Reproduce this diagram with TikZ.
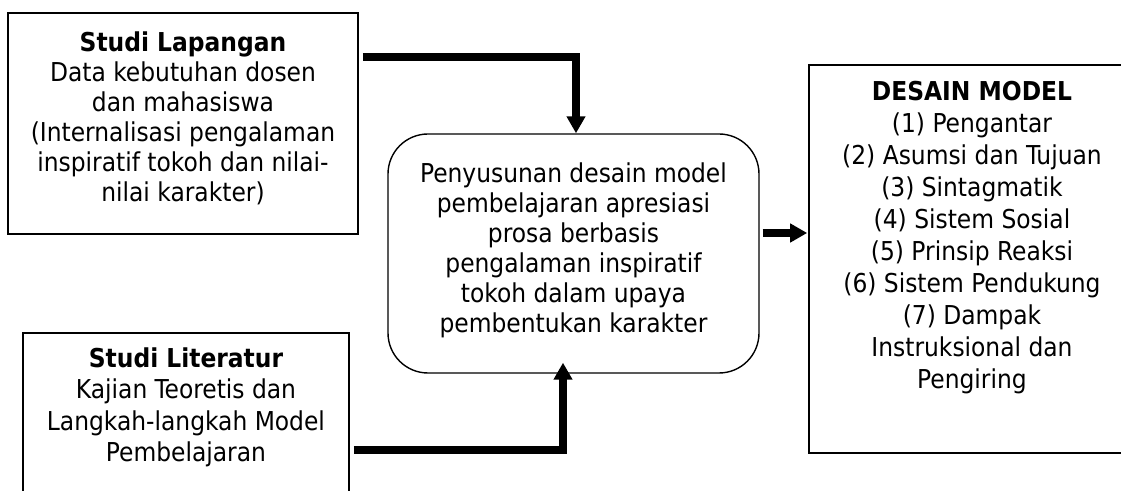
\documentclass[tikz,border=0pt]{standalone}
\usepackage{fontspec}
\setmainfont{DejaVu Sans Condensed}[BoldFont={DejaVu Sans Condensed Bold}]
\usetikzlibrary{arrows.meta}
\begin{document}
\begin{tikzpicture}[x=1pt,y=1pt,
  boxline/.style={draw=black, line width=1.6pt, inner sep=0pt},
  txt/.style={align=center, font=\fontsize{26}{30}\selectfont, inner sep=0pt},
  flow/.style={line width=7.5pt, -{Triangle[width=18pt,length=17pt]}}
]
\useasboundingbox (0,0) rectangle (1121,490);
\fill[white] (0,0) rectangle (1121,490);

% top-left box
\node[boxline, minimum width=350pt, minimum height=221pt] (lap) at (183,366.5) {};
\node[txt] (laptext) at (183,372) {\textbf{Studi Lapangan}\\Data kebutuhan dosen\\dan mahasiswa\\(Internalisasi pengalaman\\inspiratif tokoh dan nilai-\\nilai karakter)};

% bottom-left box
\node[boxline, minimum width=326pt, minimum height=217pt] (lit) at (186,48.5) {};
\node[txt, font=\fontsize{26}{31.5}\selectfont] (littext) at (186,82.5) {\textbf{Studi Literatur}\\Kajian Teoretis dan\\Langkah-langkah Model\\Pembelajaran};

% rounded centre box
\node[draw, line width=1.4pt, rounded corners=40pt, minimum width=371pt, minimum height=239pt, inner sep=0pt] (des) at (573.5,236.5) {};
\node[txt] (destext) at (573.5,240) {Penyusunan desain model\\pembelajaran apresiasi\\prosa berbasis\\pengalaman inspiratif\\tokoh dalam upaya\\pembentukan karakter};

% right box
\node[boxline, minimum width=326pt, minimum height=388pt] (mod) at (972,231) {};
\node[txt, font=\fontsize{26}{32}\selectfont] (modtext) at (972,252.5) {\textbf{DESAIN MODEL}\\(1) Pengantar\\(2) Asumsi dan Tujuan\\(3) Sintagmatik\\(4) Sistem Sosial\\(5) Prinsip Reaksi\\(6) Sistem Pendukung\\(7) Dampak\\Instruksional dan\\Pengiring};

% connectors
\draw[flow] ([xshift=4pt,yshift=-45pt]lap.north east) -| ([xshift=2.5pt]des.north);
\draw[flow] ([xshift=4pt,yshift=-118pt]lit.north east) -| ([xshift=-10.5pt,yshift=11pt]des.south);
\draw[flow] ([xshift=3pt,yshift=20.5pt]des.east) -- ([xshift=-1pt,yshift=26pt]mod.west);
\end{tikzpicture}
\end{document}
